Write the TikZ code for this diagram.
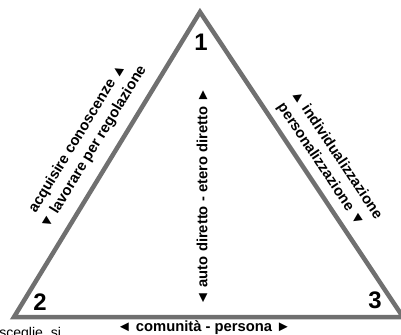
\documentclass[tikz,border=0pt]{standalone}
\usepackage{fontspec}
\setmainfont{Liberation Sans}
\usetikzlibrary{calc}

\definecolor{edgegray}{RGB}{112,112,112}

\begin{document}
\begin{tikzpicture}[x=0.025cm, y=-0.025cm,
  edge/.style={line width=3.2pt, draw=edgegray, line join=miter},
  axislabel/.style={font=\bfseries\fontsize{10.5}{13.5}\selectfont, align=center, inner sep=0pt},
  cornerlabel/.style={font=\bfseries\fontsize{17}{17}\selectfont, inner sep=0pt}]
\useasboundingbox (0,0) rectangle (401,335);

% Corners of the triangle
\coordinate (A) at (200,12);
\coordinate (B) at (14,317);
\coordinate (C) at (403,317);

% Triangle
\draw[edge] (A) -- (B) -- (C) -- cycle;

% Corner numbers
\node[cornerlabel] (n1) at (201,42) {1};
\node[cornerlabel] (n2) at (40,302) {2};
\node[cornerlabel] (n3) at (375,300) {3};

% Labels along the sides
\path (B) -- (A) node[axislabel, sloped, pos=0.52, above=9pt] (left)
  {acquisire conoscenze ▲\\▼ lavorare per regolazione};
\path (A) -- (C) node[axislabel, sloped, pos=0.53, above=6pt] (right)
  {▲ individualizzazione\\personalizzazione ▼};
\node[axislabel] (base) at (204,328) {◄ comunità - persona ►};

% Middle axis
\node[axislabel, rotate=90] (mid) at (202,197) {◄ auto diretto - etero diretto ►};

% Cut text at the bottom edge
\node[font=\fontsize{10}{10}\selectfont, anchor=base west, inner sep=0pt] (cut) at (-1,337) {sceglie, si};
\end{tikzpicture}
\end{document}
